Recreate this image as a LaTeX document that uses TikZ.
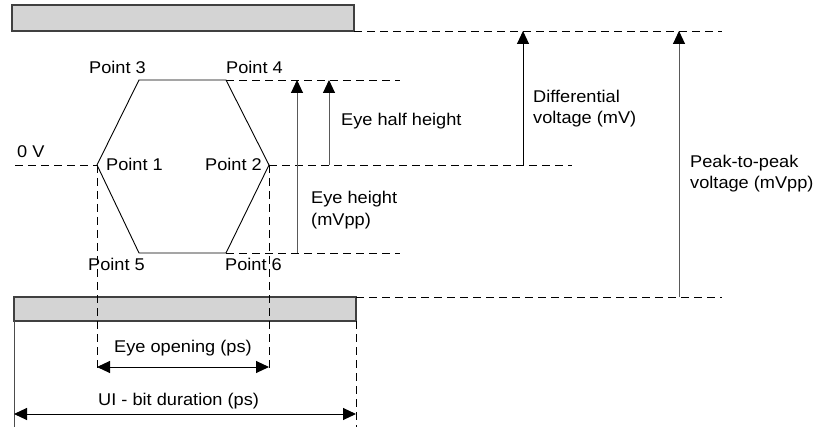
\documentclass[tikz,border=0pt]{standalone}
\usepackage{fontspec}
\setmainfont[FakeStretch=1.07]{Liberation Sans}
\usetikzlibrary{arrows.meta}
\begin{document}
\begin{tikzpicture}[x=1pt,y=-1pt,
  lbl/.style={inner sep=0pt, anchor=base west, font=\fontsize{17}{20}\selectfont},
  dsh/.style={draw=black, line width=0.9pt, dash pattern=on 8pt off 5pt},
  bar/.style={draw=black!75, line width=1.3pt, fill=black!17, inner sep=0pt, outer sep=0pt, anchor=north west},
  hexline/.style={draw=black, line width=0.9pt},
  arr/.style={line width=1pt, -{Triangle[length=13pt,width=12pt,black]}},
  darr/.style={line width=1pt, {Triangle[length=13pt,width=12pt,black]}-{Triangle[length=13pt,width=12pt,black]}},
]
\useasboundingbox (0,0) rectangle (818,427);
\fill[white] (0,0) rectangle (818,427);

% bars
\node[bar, minimum width=342pt, minimum height=26pt] (topbar) at (12,5) {};
\node[bar, minimum width=342pt, minimum height=24pt] (botbar) at (14,297) {};

% hexagon corners
\coordinate (p1) at (97,165);
\coordinate (p3) at (139,80);
\coordinate (p4) at (226,80);
\coordinate (p2) at (269,165);
\coordinate (p6) at (226,253);
\coordinate (p5) at (139,253);
\draw[hexline] (p1) -- (p3) -- (p4) -- (p2) -- (p6) -- (p5) -- cycle;

% dashed reference lines
\coordinate (topend) at (722,31);
\coordinate (botend) at (722,297);
\coordinate (hiend) at (400,80);
\coordinate (loend) at (400,253);
\coordinate (zstart) at (15,165);
\coordinate (zend) at (572,165);
\coordinate (v1end) at (97,371);
\coordinate (v2end) at (269,371);
\coordinate (uirend) at (356,427);
\coordinate (uilend) at (14,427);
\draw[dsh] (topbar.south east) -- (topend);
\draw[dsh] (botbar.north east) -- (botend);
\draw[dsh] (p4) -- (hiend);
\draw[dsh] (p6) -- (loend);
\draw[dsh] (zstart) -- (p1);
\draw[dsh] (p2) -- (zend);
\draw[dsh] (p1) -- (v1end);
\draw[dsh] (p2) -- (v2end);
\draw[dsh] (botbar.south east) -- (uirend);
\draw[line width=1pt, black!70] (botbar.south west) -- (uilend);

% vertical arrows
\coordinate (ehb) at (297,253);
\coordinate (eht) at (297,80);
\coordinate (ehhb) at (329,165);
\coordinate (ehht) at (329,80);
\coordinate (dvb) at (523,165);
\coordinate (dvt) at (523,31);
\coordinate (ppb) at (679,297);
\coordinate (ppt) at (679,31);
\draw[arr, black!65] (ehb) -- (eht);
\draw[arr, black!65] (ehhb) -- (ehht);
\draw[arr, black] (dvb) -- (dvt);
\draw[arr, black!65] (ppb) -- (ppt);

% horizontal arrows
\coordinate (eol) at (97,367);
\coordinate (eor) at (269,367);
\coordinate (uil) at (14,414);
\coordinate (uir) at (356,414);
\draw[darr, black] (eol) -- (eor);
\draw[darr, black] (uil) -- (uir);

% labels
\node[lbl] (l3) at (89,74) {Point 3};
\node[lbl] (l4) at (226,74) {Point 4};
\node[lbl] (l0) at (17,158) {0 V};
\node[lbl] (l1) at (106,171) {Point 1};
\node[lbl, anchor=base east] (l2) at (262,171) {Point 2};
\node[lbl] (l5) at (88,270) {Point 5};
\node[lbl] (l6) at (225,270) {Point 6};
\node[lbl] (leh) at (341,126) {Eye half height};
\node[lbl] (leha) at (311,204) {Eye height};
\node[lbl] (lehb) at (311,226) {(mVpp)};
\node[lbl] (ldva) at (533,103) {Differential};
\node[lbl] (ldvb) at (533,124) {voltage (mV)};
\node[lbl] (lppa) at (690,168) {Peak-to-peak};
\node[lbl] (lppb) at (690,189) {voltage (mVpp)};
\node[lbl] (leo) at (114,352) {Eye opening (ps)};
\node[lbl] (lui) at (98,405) {UI - bit duration (ps)};
\end{tikzpicture}
\end{document}
